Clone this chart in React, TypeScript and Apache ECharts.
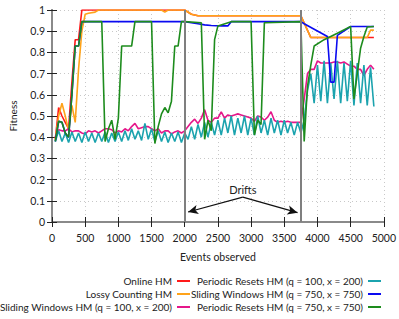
import React, { useEffect, useRef } from "react";
import * as echarts from "echarts";

// Observation grid (events observed)
const events: number[] = Array.from({ length: 97 }, (_, i) => 50 * (i + 1));

const xTicks = { min: 0, max: 5000, interval: 500 };
const yTicks = { min: 0, max: 1, interval: 0.1 };
const drifts = [2000, 3750];

const onlineHM: [number, number][] = [
  [50, 0.39], [100, 0.54], [150, 0.5], [200, 0.47], [250, 0.44], [300, 0.66],
  [350, 0.86], [400, 0.86], [450, 1.0], [2000, 1.0], [2100, 0.98], [2200, 0.973],
  [3750, 0.973], [3900, 0.87], [4850, 0.87],
];
const lossyCounting: [number, number][] = [
  [50, 0.39], [100, 0.5], [150, 0.56], [200, 0.5], [250, 0.43], [300, 0.55],
  [350, 0.47], [400, 0.72], [450, 0.9], [500, 0.98], [550, 0.985], [650, 0.99],
  [700, 1.0], [1650, 1.0], [1700, 0.99], [1750, 1.0], [2000, 1.0], [2100, 0.98],
  [2200, 0.973], [3750, 0.973], [3900, 0.87], [4750, 0.87], [4800, 0.905], [4850, 0.905],
];
const slidingQ100: number[] = [
  0.40, 0.435, 0.43, 0.43, 0.44, 0.425, 0.43, 0.43, 0.42, 0.415,
  0.43, 0.425, 0.43, 0.42, 0.43, 0.44, 0.44, 0.435, 0.42, 0.43,
  0.425, 0.44, 0.43, 0.45, 0.465, 0.44, 0.445, 0.45, 0.45, 0.44,
  0.43, 0.44, 0.42, 0.43, 0.43, 0.415, 0.425, 0.43, 0.42, 0.43,
  0.45, 0.47, 0.485, 0.465, 0.49, 0.53, 0.48, 0.47, 0.49, 0.49,
  0.52, 0.49, 0.505, 0.5, 0.505, 0.51, 0.505, 0.5, 0.495, 0.49,
  0.475, 0.5, 0.495, 0.48, 0.495, 0.52, 0.48, 0.47, 0.475, 0.47,
  0.475, 0.47, 0.47, 0.47, 0.47,
  0.58, 0.7, 0.72, 0.72, 0.76, 0.75, 0.75, 0.75, 0.75, 0.755,
  0.755, 0.75, 0.755, 0.745, 0.735, 0.735, 0.72, 0.72, 0.69, 0.72,
  0.74, 0.72,
];
const periodicQ100: number[] = [
  0.38, 0.43, 0.38, 0.42, 0.375, 0.425, 0.38, 0.42, 0.375, 0.425,
  0.38, 0.42, 0.375, 0.42, 0.38, 0.425, 0.375, 0.42, 0.38, 0.425,
  0.38, 0.43, 0.385, 0.44, 0.39, 0.43, 0.385, 0.465, 0.39, 0.44,
  0.38, 0.43, 0.38, 0.425, 0.375, 0.42, 0.38, 0.425, 0.375, 0.42,
  0.39, 0.45, 0.39, 0.46, 0.4, 0.47, 0.4, 0.47, 0.41, 0.48,
  0.41, 0.49, 0.42, 0.5, 0.41, 0.49, 0.42, 0.5, 0.41, 0.49,
  0.41, 0.5, 0.42, 0.48, 0.41, 0.49, 0.42, 0.48, 0.41, 0.48,
  0.42, 0.47, 0.41, 0.47, 0.42,
  0.48, 0.62, 0.7, 0.56, 0.74, 0.57, 0.76, 0.56, 0.75, 0.58,
  0.76, 0.56, 0.75, 0.57, 0.76, 0.55, 0.75, 0.56, 0.74, 0.55,
  0.73, 0.545,
];
const slidingQ750: [number, number][] = [
  [50, 0.38], [100, 0.475], [150, 0.47], [200, 0.42], [250, 0.4], [300, 0.6],
  [350, 0.83], [400, 0.83], [450, 0.945], [2000, 0.945], [2100, 0.94], [2200, 0.935],
  [2300, 0.93], [2400, 0.927], [2550, 0.925], [2650, 0.925], [2700, 0.945],
  [3750, 0.945], [3800, 0.935], [4150, 0.875], [4200, 0.66], [4250, 0.66],
  [4300, 0.88], [4500, 0.922], [4850, 0.922],
];
const periodicQ750: [number, number][] = [
  [50, 0.38], [100, 0.475], [150, 0.47], [200, 0.42], [250, 0.4], [300, 0.6],
  [350, 0.83], [400, 0.83], [450, 0.945], [750, 0.945], [800, 0.38], [850, 0.44],
  [900, 0.48], [950, 0.39], [1000, 0.49], [1050, 0.83], [1200, 0.83], [1250, 0.945],
  [1500, 0.945], [1550, 0.37], [1600, 0.45], [1650, 0.51], [1700, 0.54], [1750, 0.515],
  [1800, 0.57], [1850, 0.83], [1900, 0.83], [1950, 0.945], [2000, 0.945], [2250, 0.94],
  [2300, 0.39], [2350, 0.48], [2400, 0.43], [2450, 0.86], [2500, 0.925], [2700, 0.945],
  [3000, 0.945], [3050, 0.41], [3100, 0.48], [3150, 0.46], [3200, 0.94], [3750, 0.945],
  [3800, 0.38], [3850, 0.64], [3900, 0.74], [3950, 0.83], [4100, 0.86], [4300, 0.89],
  [4500, 0.922], [4550, 0.58], [4600, 0.7], [4650, 0.82], [4700, 0.875], [4750, 0.92],
  [4850, 0.922],
];

const names = [
  "Online HM",
  "Lossy Counting HM",
  "Sliding Windows HM (q = 100, x = 200)",
  "Periodic Resets HM (q = 100, x = 200)",
  "Sliding Windows HM (q = 750, x = 750)",
  "Periodic Resets HM (q = 750, x = 750)",
];
const colors = ["#ff1a1a", "#ffa31a", "#e5178a", "#1ba3ae", "#0a0af0", "#1d8c1d"];

const FONT = "Lato";

export default function App() {
  const ref = useRef<HTMLDivElement>(null);
  useEffect(() => {
    if (!ref.current) return;
    const chart = echarts.init(ref.current, undefined, { renderer: "svg" });
    const zip = (ys: number[]) => ys.map((y, i) => [events[i], y]);
    const seriesData = [onlineHM, lossyCounting, zip(slidingQ100), zip(periodicQ100), slidingQ750, periodicQ750];

    const legendPos = [
      { right: 209, top: 275 },
      { right: 209, top: 288 },
      { right: 209, top: 301 },
      { right: 18, top: 275 },
      { right: 18, top: 288 },
      { right: 18, top: 301 },
    ];

    const axisLine = { show: true, lineStyle: { color: "#8a8a8a", width: 2 } };
    const tick = { show: true, inside: true, length: 5, lineStyle: { color: "#222", width: 1 } };
    const split = { show: true, lineStyle: { color: "#c8c8c8", type: [1, 3] as any, width: 1 } };

    const series: any[] = seriesData.map((d, i) => ({
      name: names[i],
      type: "line",
      data: d,
      showSymbol: false,
      symbol: "none",
      lineStyle: { color: colors[i], width: 1.6 },
      itemStyle: { color: colors[i] },
      xAxisIndex: 0,
      yAxisIndex: 0,
      z: 3,
    }));
    series.unshift({
      type: "line",
      data: [],
      silent: true,
      z: 4,
      markLine: {
        silent: true,
        symbol: ["none", "none"],
        label: { show: false },
        lineStyle: { color: "#7f7f7f", width: 2, type: "solid" },
        data: drifts.map((x) => ({ xAxis: x })),
      },
    });
    series.push({
      type: "line",
      data: [],
      silent: true,
      z: 6,
      markLine: {
        silent: true,
        symbol: ["none", "arrow"],
        symbolSize: [7, 10],
        label: { show: false },
        lineStyle: { color: "#111", width: 1.2, type: "solid" },
        data: [
          [{ coord: [2875, 0.117] }, { coord: [2050, 0.047] }],
          [{ coord: [2875, 0.117] }, { coord: [3700, 0.044] }],
        ],
      },
      markPoint: {
        silent: true,
        symbol: "circle",
        symbolSize: 0,
        label: {
          show: true,
          formatter: "Drifts",
          color: "#222",
          fontFamily: FONT,
          fontSize: 11,
          position: "inside",
        },
        data: [{ coord: [2875, 0.152] }],
      },
    });

    chart.setOption({
      animation: false,
      backgroundColor: "#ffffff",
      grid: { left: 48, right: 12, top: 10, bottom: 97 },
      legend: names.map((n, i) => ({
        data: [n],
        orient: "horizontal",
        align: "right",
        right: legendPos[i].right,
        top: legendPos[i].top,
        padding: 0,
        icon: "rect",
        itemWidth: 13,
        itemHeight: 2,
        selectedMode: false,
        textStyle: { fontFamily: FONT, fontSize: 10, color: "#222", lineHeight: 12 },
      })),
      xAxis: [
        {
          type: "value",
          ...xTicks,
          position: "bottom",
          name: "Events observed",
          nameLocation: "middle",
          nameGap: 29,
          nameTextStyle: { fontFamily: FONT, fontSize: 10.5, color: "#222" },
          axisLine,
          axisTick: tick,
          axisLabel: {
            fontFamily: FONT,
            fontSize: 10.5,
            color: "#222",
            margin: 10,
            formatter: (v: number) => String(v),
          },
          splitLine: split,
        },
        {
          type: "value",
          ...xTicks,
          position: "top",
          axisLine,
          axisTick: tick,
          axisLabel: { show: false },
          splitLine: { show: false },
        },
      ],
      yAxis: [
        {
          type: "value",
          ...yTicks,
          position: "left",
          name: "Fitness",
          nameLocation: "middle",
          nameGap: 34,
          nameTextStyle: { fontFamily: FONT, fontSize: 10, color: "#222" },
          axisLine,
          axisTick: tick,
          axisLabel: {
            fontFamily: FONT,
            fontSize: 10.5,
            color: "#222",
            margin: 7,
            formatter: (v: number) => String(Math.round(v * 10) / 10),
          },
          splitLine: split,
        },
        {
          type: "value",
          ...yTicks,
          position: "right",
          axisLine,
          axisTick: tick,
          axisLabel: { show: false },
          splitLine: { show: false },
        },
      ],
      series,
    });
    return () => chart.dispose();
  }, []);
  return (
    <div
      ref={ref}
      style={{ position: "fixed", left: 0, top: 0, width: 399, height: 319, background: "#fff" }}
    />
  );
}
